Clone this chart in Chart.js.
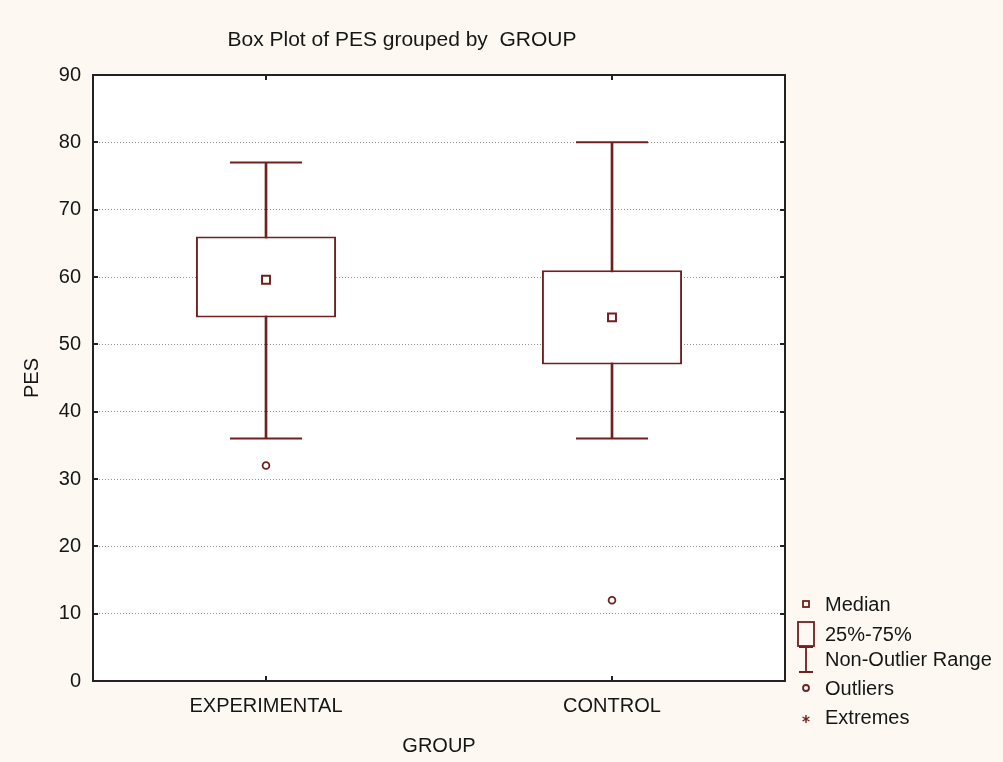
<!DOCTYPE html>
<html>
<head>
<meta charset="utf-8">
<title>Box Plot of PES grouped by GROUP</title>
<script src="https://cdn.jsdelivr.net/npm/chart.js@4.4.1/dist/chart.umd.min.js"></script>
<style>
  html, body { margin: 0; padding: 0; background: #fdf9f2; }
  #wrap { width: 1003px; height: 762px; position: relative; }
</style>
</head>
<body>
<div id="wrap"><canvas id="chart" width="1003" height="762"></canvas></div>
<script>
// Summary statistics of PES for each group
const categories   = ['EXPERIMENTAL', 'CONTROL'];
const medians      = [59.6, 54];
const quartileLow  = [54, 47];
const quartileHigh = [66, 61];
const whiskerLow   = [36, 36];
const whiskerHigh  = [77, 80];
const outliers     = [32, 12];
const yTickMin = 0, yTickMax = 90, yTickStep = 10;

const legendItems = ['Median', '25%-75%', 'Non-Outlier Range', 'Outliers', 'Extremes'];

const INK = '#70201f';
const TEXT = '#161616';
const FONT = "'Liberation Sans', Arial, sans-serif";

// white plot panel, inner tick marks, frame, title and key
const boxPlotDecor = {
  id: 'boxPlotDecor',
  beforeDraw(chart) {
    const { ctx, chartArea: a } = chart;
    ctx.save();
    ctx.fillStyle = '#ffffff';
    ctx.fillRect(a.left, a.top, a.right - a.left, a.bottom - a.top);
    ctx.restore();
  },
  afterDraw(chart) {
    const { ctx, chartArea: a, scales } = chart;
    ctx.save();
    // inner tick marks on all four sides
    ctx.strokeStyle = '#222222';
    ctx.lineWidth = 2;
    ctx.beginPath();
    scales.y.ticks.forEach(t => {
      const y = Math.round(scales.y.getPixelForValue(t.value));
      ctx.moveTo(a.left, y); ctx.lineTo(a.left + 5, y);
      ctx.moveTo(a.right, y); ctx.lineTo(a.right - 5, y);
    });
    categories.forEach((c, i) => {
      const x = Math.round(scales.x.getPixelForValue(i));
      ctx.moveTo(x, a.bottom); ctx.lineTo(x, a.bottom - 5);
      ctx.moveTo(x, a.top); ctx.lineTo(x, a.top + 5);
    });
    ctx.stroke();
    // frame
    ctx.strokeStyle = '#222222';
    ctx.lineWidth = 2;
    ctx.strokeRect(a.left, a.top, a.right - a.left, a.bottom - a.top);

    // title
    ctx.fillStyle = TEXT;
    ctx.font = '21px ' + FONT;
    ctx.textAlign = 'center';
    ctx.textBaseline = 'middle';
    ctx.fillText('Box Plot of PES grouped by  GROUP', 402, 40);

    // key
    const sx = a.right + 21;
    const tx = a.right + 40;
    const ys = [a.bottom - 77, a.bottom - 47, a.bottom - 22, a.bottom + 7, a.bottom + 36];
    ctx.strokeStyle = INK;
    ctx.lineWidth = 1.8;
    // median square
    ctx.strokeRect(sx - 3, ys[0] - 3, 6, 6);
    // quartile box
    ctx.strokeRect(sx - 8, ys[1] - 12, 16, 24);
    // non-outlier range
    ctx.beginPath();
    ctx.moveTo(sx - 7, ys[2] - 12); ctx.lineTo(sx + 7, ys[2] - 12);
    ctx.moveTo(sx, ys[2] - 12); ctx.lineTo(sx, ys[2] + 13);
    ctx.moveTo(sx - 7, ys[2] + 13); ctx.lineTo(sx + 7, ys[2] + 13);
    ctx.stroke();
    // outlier circle
    ctx.beginPath();
    ctx.arc(sx, ys[3], 3, 0, Math.PI * 2);
    ctx.stroke();
    // extremes asterisk
    ctx.lineWidth = 1.4;
    ctx.beginPath();
    for (let k = 0; k < 3; k++) {
      const ang = Math.PI / 2 + k * Math.PI / 3;
      ctx.moveTo(sx - 4 * Math.cos(ang), ys[4] + 2 - 4 * Math.sin(ang));
      ctx.lineTo(sx + 4 * Math.cos(ang), ys[4] + 2 + 4 * Math.sin(ang));
    }
    ctx.stroke();
    ctx.fillStyle = TEXT;
    ctx.font = '20px ' + FONT;
    ctx.textAlign = 'left';
    ctx.textBaseline = 'middle';
    legendItems.forEach((label, i) => ctx.fillText(label, tx, ys[i] + 1));
    ctx.restore();
  }
};

new Chart(document.getElementById('chart'), {
  type: 'bar',
  data: {
    labels: categories,
    datasets: [
      {
        label: 'Non-Outlier Range',
        data: categories.map((c, i) => [whiskerLow[i], whiskerHigh[i]]),
        backgroundColor: INK,
        borderWidth: 0,
        barThickness: 2,
        grouped: false,
        order: 5
      },
      {
        label: '25%-75%',
        data: categories.map((c, i) => [quartileLow[i], quartileHigh[i]]),
        backgroundColor: '#ffffff',
        borderColor: INK,
        borderWidth: 2,
        borderSkipped: false,
        barPercentage: 0.405,
        categoryPercentage: 1,
        grouped: false,
        order: 4
      },
      {
        type: 'line',
        label: 'Upper whisker',
        data: whiskerHigh,
        showLine: false,
        pointStyle: 'line',
        pointRadius: 36,
        pointBorderWidth: 2,
        pointBorderColor: INK,
        order: 3
      },
      {
        type: 'line',
        label: 'Lower whisker',
        data: whiskerLow,
        showLine: false,
        pointStyle: 'line',
        pointRadius: 36,
        pointBorderWidth: 2,
        pointBorderColor: INK,
        order: 3
      },
      {
        type: 'line',
        label: 'Median',
        data: medians,
        showLine: false,
        pointStyle: 'rect',
        pointRadius: 5.6,
        pointBorderWidth: 2,
        pointBorderColor: INK,
        pointBackgroundColor: '#ffffff',
        order: 1
      },
      {
        type: 'line',
        label: 'Outliers',
        data: outliers,
        showLine: false,
        pointStyle: 'circle',
        pointRadius: 3.4,
        pointBorderWidth: 1.8,
        pointBorderColor: INK,
        pointBackgroundColor: '#ffffff',
        order: 0
      }
    ]
  },
  options: {
    responsive: false,
    animation: false,
    events: [],
    layout: { padding: { top: 75, right: 218, bottom: 0, left: 0 } },
    plugins: {
      legend: { display: false },
      title: { display: false },
      tooltip: { enabled: false }
    },
    scales: {
      x: {
        offset: true,
        grid: { display: false, drawTicks: false },
        border: { display: false },
        ticks: { color: TEXT, font: { family: FONT, size: 20 }, padding: 13, maxRotation: 0 },
        title: { display: true, text: 'GROUP', color: TEXT, font: { family: FONT, size: 20 }, padding: { top: 0, bottom: 4 } },
        afterFit(scale) { scale.height = 81; }
      },
      y: {
        min: yTickMin,
        max: yTickMax,
        grid: { color: '#8e8e8e', lineWidth: 1, drawTicks: false },
        border: { display: false, dash: [1, 2] },
        ticks: { stepSize: yTickStep, color: TEXT, font: { family: FONT, size: 20 }, padding: 12 },
        title: { display: true, text: 'PES', color: TEXT, font: { family: FONT, size: 20 }, padding: { top: 20, bottom: 0 } },
        afterFit(scale) { scale.width = 93; }
      }
    }
  },
  plugins: [boxPlotDecor]
});
</script>
</body>
</html>
